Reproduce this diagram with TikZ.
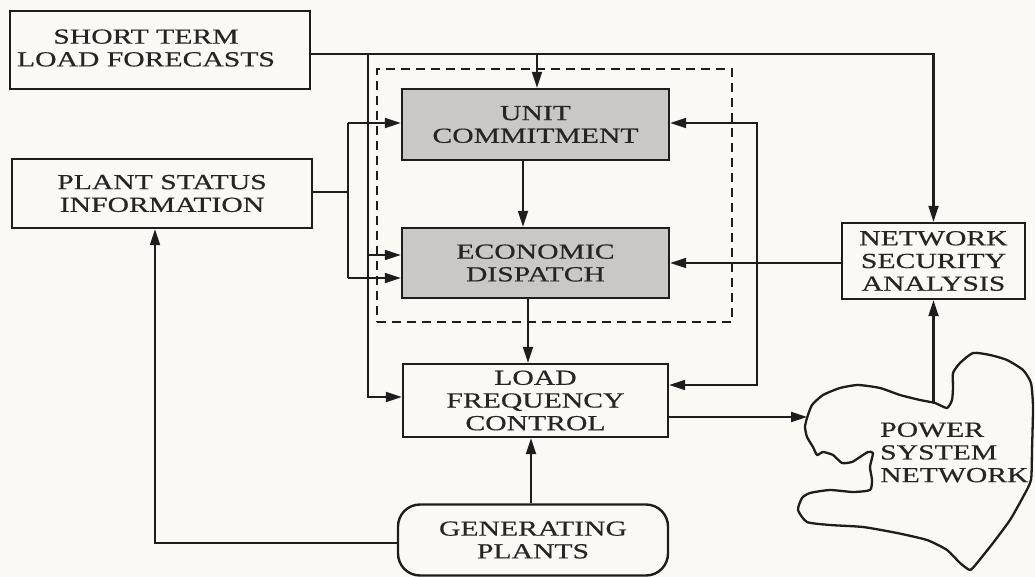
\documentclass[tikz,border=0pt]{standalone}
\usepackage{fontspec}
\setmainfont{Liberation Serif}[FakeStretch=1.38,FakeBold=0.5]
\usetikzlibrary{arrows.meta}
\definecolor{paper}{RGB}{251,249,245}
\definecolor{ink}{RGB}{30,28,28}
\definecolor{shade}{RGB}{202,200,198}
\definecolor{txt}{RGB}{38,36,36}
\newcommand\dlabfont{\fontsize{21.5pt}{22.7pt}\selectfont}
\begin{document}
\begin{tikzpicture}[x=1pt,y=-1pt,
  box/.style={draw=ink, line width=2.4pt, inner sep=0pt, align=center, text=txt, font=\dlabfont},
  grey/.style={box, fill=shade},
  lab/.style={inner sep=0pt, align=center, text=txt, font=\dlabfont},
  wire/.style={draw=ink, line width=2.1pt},
  arr/.style={wire, -{Triangle[length=16pt,width=10pt]}},
  dashbox/.style={draw=ink, line width=2pt, dash pattern=on 9pt off 6pt, inner sep=0pt},
  blob/.style={draw=ink, line width=2.3pt, line join=round}
]
\useasboundingbox (0,0) rectangle (1035,577);
\fill[paper] (0,0) rectangle (1035,577);

% group frame
\node[dashbox, minimum width=355pt, minimum height=253pt] (grp) at (554.5,195.5) {};

% blocks
\node[box, minimum width=300pt, minimum height=78pt] (stlf) at (160,50) {};
\node[lab] (stlft) at (146,48) {SHORT TERM\\LOAD FORECASTS};
\node[box, minimum width=300pt, minimum height=69pt] (psi) at (162,193.5) {PLANT STATUS\\INFORMATION};
\node[grey, minimum width=267pt, minimum height=71pt] (uc) at (535.5,124.5) {UNIT\\COMMITMENT};
\node[grey, minimum width=267pt, minimum height=70pt] (ed) at (535.5,263) {ECONOMIC\\DISPATCH};
\node[box, minimum width=265pt, minimum height=73pt] (lfc) at (535.5,400.5) {LOAD\\FREQUENCY\\CONTROL};
\node[box, rounded corners=22pt, minimum width=270pt, minimum height=71pt] (gp) at (533,540) {GENERATING\\PLANTS};
\node[box, minimum width=183pt, minimum height=76pt] (nsa) at (933.5,261) {NETWORK\\SECURITY\\ANALYSIS};

% power system network outline
\draw[blob] plot[smooth cycle, tension=0.35] coordinates {
 (807,418) (812,405) (823,395) (840,388) (858,385) (880,388) (900,395) (920,400)
 (935,403) (947,408) (952,400) (953,387) (953,373) (960,363) (973,353) (990,355)
 (1007,360) (1023,370) (1031,383) (1033,407) (1032,450) (1031,480) (1023,497)
 (1010,520) (993,543) (977,563) (970,570) (960,563) (947,550) (927,540) (897,533)
 (863,527) (830,525) (807,522) (798,510) (802,498) (810,493) (830,490) (853,492)
 (870,490) (872,480) (870,467) (873,453) (868,452) (860,457) (852,462) (842,463)
 (833,455) (823,452) (817,455) (813,447) (807,437) (805,427)};
\node[lab, align=left, anchor=west] (psn) at (880,452.5) {POWER\\SYSTEM\\NETWORK};
\coordinate (pin) at (807,417);
\coordinate (pout) at (933.5,403);

% junction points
\coordinate (a1) at (368,54);
\coordinate (a2) at (537,54);
\coordinate (a3) at (368,255);
\coordinate (a4) at (368,397);
\coordinate (b1) at (348,192);
\coordinate (b2) at (348,123);
\coordinate (b3) at (348,278);
\coordinate (c1) at (757,123);
\coordinate (c2) at (757,263);
\coordinate (c3) at (757,385);
\coordinate (d1) at (155,543);
\coordinate (e1) at (668,417);

% short term load forecasts
\draw[arr] (stlf.east |- a1) -- (a2) -| (nsa.north);
\draw[arr] (a2) -- (a2 |- uc.north);
\draw[arr] (a1) -- (a4) -- (lfc.west |- a4);
\draw[arr] (a3) -- (ed.west |- a3);

% plant status information
\draw[wire] (psi.east |- b1) -- (b1);
\draw[wire] (b2) -- (b3);
\draw[arr] (b2) -- (uc.west |- b2);
\draw[arr] (b3) -- (ed.west |- b3);

% vertical chain
\draw[arr] ([xshift=-12.5pt]uc.south) -- ([xshift=-12.5pt]ed.north);
\draw[arr] ([xshift=-7.5pt]ed.south) -- ([xshift=-7.5pt]lfc.north);
\draw[arr] ([xshift=-2pt]gp.north) -- ([xshift=-4.5pt]lfc.south);

% network security analysis feedback
\draw[arr] (nsa.west |- c2) -- (ed.east |- c2);
\draw[arr] (c2) -- (c1) -- (uc.east |- c1);
\draw[arr] (c2) -- (c3) -- (lfc.east |- c3);

% load frequency control to network, network to security analysis
\draw[arr] (lfc.east |- e1) -- (pin);
\draw[arr] (pout) -- (nsa.south);

% generating plants to plant status
\draw[arr] (gp.west |- d1) -- (d1) -- (d1 |- psi.south);
\end{tikzpicture}
\end{document}
